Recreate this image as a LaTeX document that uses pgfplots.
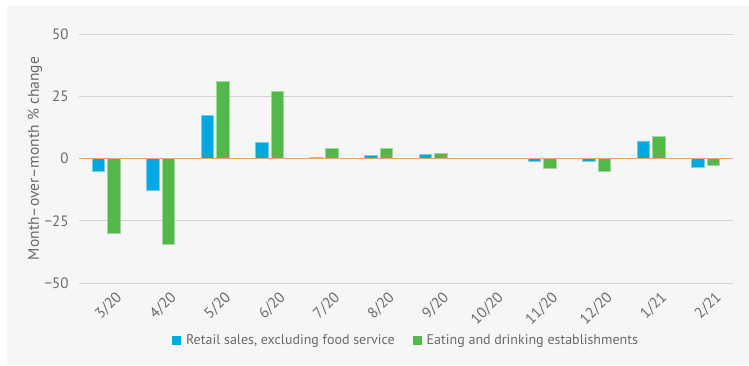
\documentclass[border=0pt]{standalone}
\usepackage{pgfplots}
\pgfplotsset{compat=1.18}
\usepackage{fontspec}
\setmainfont{PT Sans}
\definecolor{bg}{HTML}{F6F6F6}
\definecolor{cblue}{HTML}{00A8E1}
\definecolor{cgreen}{HTML}{51B849}
\definecolor{zeroc}{HTML}{F2A36B}
\definecolor{gridc}{HTML}{D2D2D2}
\definecolor{txt}{HTML}{6A6A6A}
\begin{document}
\begin{tikzpicture}[x=1pt,y=1pt]
\useasboundingbox (0,0) rectangle (749,365);
\fill[bg] (7,0) rectangle (749,359);
\begin{axis}[
  at={(79pt,82pt)}, anchor=south west,
  scale only axis, width=654pt, height=249pt,
  xmin=-0.5, xmax=11.5, ymin=-50, ymax=50,
  ybar=3pt, bar width=12.5pt,
  separate axis lines, axis line style={draw=none},
  major tick length=0pt,
  xtick={0,...,11},
  xticklabels={3/20,4/20,5/20,6/20,7/20,8/20,9/20,10/20,11/20,12/20,1/21,2/21},
  ytick={-50,-25,0,25,50},
  yticklabels={−50,−25,0,25,50},
  ymajorgrids, grid style={gridc, line width=1pt},
  every tick label/.append style={font=\fontsize{15}{17}\selectfont, text=txt},
  yticklabel style={xshift=-7pt},
  xticklabel style={rotate=45, anchor=north east, xshift=4pt, yshift=-8pt},
  ylabel={Month–over–month \% change},
  every axis y label/.style={at={(axis description cs:0,0.5)}, xshift=-44pt, rotate=90, anchor=center, font=\fontsize{15.5}{17}\selectfont, text=txt},
  legend columns=2,
  legend style={at={(axis description cs:0.5,0)}, anchor=center, yshift=-57pt, draw=none, fill=none, font=\fontsize{14}{16}\selectfont, text=txt, /tikz/every even column/.append style={column sep=16pt}, /tikz/every odd column/.append style={column sep=3pt}, inner sep=0pt},
  legend image code/.code={\fill[#1, draw=none] (0pt,-4.5pt) rectangle (9pt,4.5pt);},
]
\addplot[fill=cblue, draw=cblue!55!white, line width=0.6pt] coordinates {
(0,-5.3) (1,-12.9) (2,17.2) (3,6.6) (4,0.6) (5,1.1) (6,1.5) (7,0.2) (8,-1.3) (9,-1.3) (10,7.1) (11,-3.4)};
\addlegendentry{Retail sales, excluding food service}
\addplot[fill=cgreen, draw=cgreen!55!white, line width=0.6pt] coordinates {
(0,-30.0) (1,-34.5) (2,31.1) (3,27.1) (4,3.9) (5,3.9) (6,2.2) (7,0.2) (8,-3.9) (9,-5.0) (10,8.9) (11,-2.7)};
\addlegendentry{Eating and drinking establishments}
\draw[zeroc, line width=1.3pt] (axis cs:-0.5,0) -- (axis cs:11.5,0);
\end{axis}
\end{tikzpicture}
\end{document}
